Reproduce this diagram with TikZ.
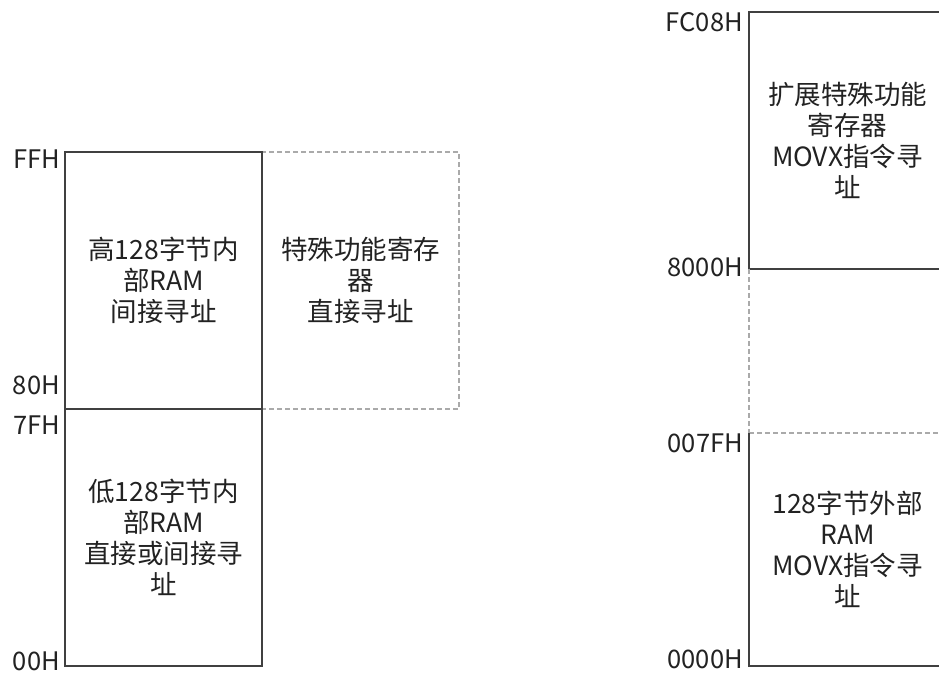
\documentclass[tikz,border=0pt]{standalone}
\usepackage{fontspec}
\setmainfont{Noto Sans CJK SC}
\definecolor{edge}{HTML}{404040}
\definecolor{dashgray}{HTML}{AAAAAA}
\definecolor{txt}{HTML}{222222}
\tikzset{
  membox/.style={draw=edge, line width=1.6pt, minimum width=197pt, inner sep=0pt, outer sep=0pt},
  ghostbox/.style={draw=none, minimum width=197pt, inner sep=0pt, outer sep=0pt},
  dashline/.style={draw=dashgray, line width=1.3pt, dash pattern=on 5pt off 3pt},
  solidline/.style={draw=edge, line width=1.6pt},
  boxtext/.style={text=txt, align=center, font=\fontsize{26.5}{31}\selectfont},
  addr/.style={text=txt, anchor=east, inner sep=0pt, font=\fontsize{25.5}{31}\selectfont}
}
\begin{document}
\begin{tikzpicture}[x=1pt,y=-1pt]
\useasboundingbox (0,0) rectangle (939,673);
\clip (0,0) rectangle (939,673);
% left part
\node[ghostbox, minimum height=257pt] (sfr) at (360.5,280.5) {};
\draw[dashline] (sfr.north west) rectangle (sfr.south east);
\node[membox, minimum height=257pt] (hi) at (163.5,280.5) {};
\node[membox, minimum height=257pt] (lo) at (163.5,537.5) {};
\node[boxtext] (hit) at (hi.center) {高128字节内\\部RAM\\间接寻址};
\node[boxtext] (sfrt) at (sfr.center) {特殊功能寄存\\器\\直接寻址};
\node[boxtext] (lot) at (lo.center) {低128字节内\\部RAM\\直接或间接寻\\址};
\node[addr] (aFF) at (60,159) {FFH};
\node[addr] (a80) at (60,385) {80H};
\node[addr] (a7F) at (60,425) {7FH};
\node[addr] (a00) at (60,661) {00H};
% right part
\node[membox, minimum height=257pt] (xsfr) at (847.5,140.5) {};
\node[ghostbox, minimum height=164pt] (gap) at (847.5,351) {};
\node[ghostbox, minimum height=233pt] (xram) at (847.5,549.5) {};
\draw[dashline] (gap.north west) -- (gap.south west);
\draw[dashline] (xram.north west) -- (xram.north east);
\draw[solidline] (xram.north west) -- (xram.south west) -- (xram.south east) -- (xram.north east);
\node[boxtext] (xsfrt) at (xsfr.center) {扩展特殊功能\\寄存器\\MOVX指令寻\\址};
\node[boxtext] (xramt) at (xram.center) {128字节外部\\RAM\\MOVX指令寻\\址};
\node[addr] (aFC08) at (743,22) {FC08H};
\node[addr] (a8000) at (743,267) {8000H};
\node[addr] (a007F) at (743,443) {007FH};
\node[addr] (a0000) at (743,659) {0000H};
\end{tikzpicture}
\end{document}
